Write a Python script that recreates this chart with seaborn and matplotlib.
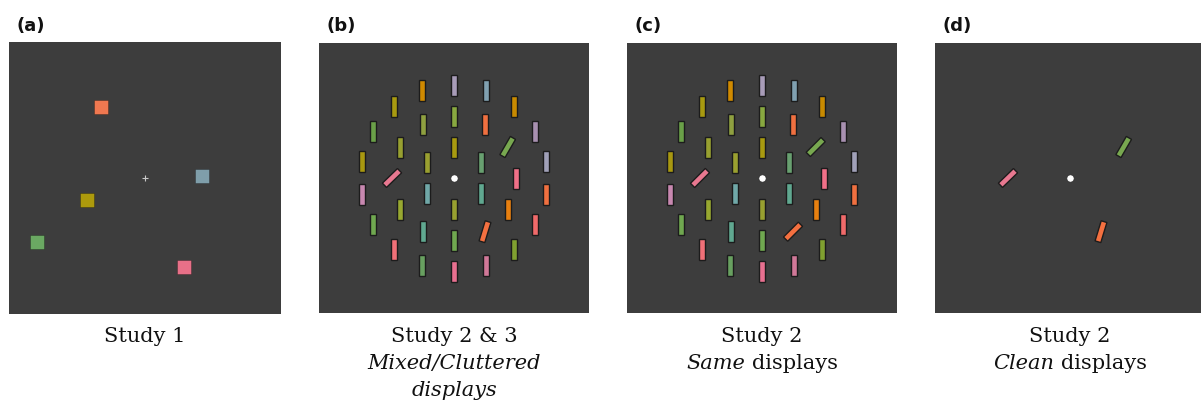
import numpy as np
import pandas as pd
import matplotlib
matplotlib.use("Agg")
import matplotlib.pyplot as plt
from matplotlib.patches import Rectangle
import seaborn as sns

# ---------------------------------------------------------------- data
# Study 1: coloured squares, position relative to fixation (px, y up)
square_x = [-44, 57, -58, -108, 39]
square_y = [71, 2, -22, -64, -89]
square_colors = ["#f07850", "#7f9eaa", "#ad9a0c", "#6aa862", "#e87088"]

# Study 2/3: bars on three concentric rings, listed clockwise from 12 o'clock
ring_radii = [93, 62, 31]
outer_colors = ["#a89cb8", "#80a0b0", "#c88a00", "#a890b0", "#a0a0b8", "#f07040",
                "#f06a6a", "#80a030", "#d07898", "#e87090", "#68a060", "#f07078",
                "#70a850", "#c888b0", "#a89810", "#6aa048", "#a89a10", "#d08a00"]
middle_colors = ["#88a840", "#f07040", "#78a850", "#f07088", "#e88010", "#f47040",
                 "#70a850", "#60a890", "#98a830", "#e87890", "#98a030", "#8fa040"]
inner_colors = ["#a89a10", "#68a070", "#60a890", "#98a030", "#70a8a8", "#9aa030"]

# orientation (deg clockwise from vertical) of the middle-ring bars
middle_tilts_mixed = [0, 0, 30, 0, 0, 17, 0, 0, 0, 46, 0, 0]
middle_tilts_same = [0, 0, 45, 0, 0, 45, 0, 0, 0, 45, 0, 0]

panel_letters = ["(a)", "(b)", "(c)", "(d)"]
captions = [
    [[("Study 1", "normal")]],
    [[("Study 2 & 3", "normal")], [("Mixed/Cluttered", "italic")], [("displays", "italic")]],
    [[("Study 2", "normal")], [("Same", "italic"), ("displays", "normal")]],
    [[("Study 2", "normal")], [("Clean", "italic"), ("displays", "normal")]],
]

# ---------------------------------------------------------------- helpers
W, H = 1201, 403
BG = "#3d3d3d"
BAR_W, BAR_L = 6.0, 21.0


def ring_frame(colors_by_ring, tilts_by_ring):
    rows = []
    for r, cols, tilts in zip(ring_radii, colors_by_ring, tilts_by_ring):
        n = len(cols)
        for i, (c, t) in enumerate(zip(cols, tilts)):
            th = np.deg2rad(360.0 * i / n)
            rows.append(dict(x=r * np.sin(th), y=r * np.cos(th), color=c, tilt=t))
    return pd.DataFrame(rows)


def draw_bars(ax, df):
    for _, row in df.iterrows():
        ax.add_patch(Rectangle((row.x - BAR_W / 2, row.y - BAR_L / 2), BAR_W, BAR_L,
                               angle=-row.tilt, rotation_point="center",
                               facecolor=row.color, edgecolor="#1c1c1c",
                               linewidth=1.0, zorder=2))


def fixation_dot(ax):
    sns.scatterplot(x=[0], y=[0], ax=ax, color="white", s=27, marker="o",
                    edgecolor="#2a2a2a", linewidth=0.4, zorder=3, legend=False)


def setup_axes(left, top, size):
    ax = fig.add_axes([left / W, 1 - (top + size) / H, size / W, size / H])
    ax.set_facecolor(BG)
    ax.set_xlim(-size / 2, size / 2)
    ax.set_ylim(-size / 2, size / 2)
    ax.set_aspect("equal")
    ax.set_xticks([])
    ax.set_yticks([])
    for s in ax.spines.values():
        s.set_visible(False)
    return ax


# ---------------------------------------------------------------- figure
sns.set_theme(style="white")
plt.rcParams["font.family"] = ["DejaVu Sans"]
fig = plt.figure(figsize=(W / 100, H / 100), dpi=100)
fig.patch.set_facecolor("white")

panel_left = [9, 319, 627, 935]
panel_top = [42, 43, 43, 43]
panel_size = [272, 270, 270, 270]
axes = [setup_axes(l, t, s) for l, t, s in zip(panel_left, panel_top, panel_size)]

# (a) Study 1
ax = axes[0]
sq = pd.DataFrame(dict(x=square_x, y=square_y, color=square_colors))
sns.scatterplot(data=sq, x="x", y="y", hue="color",
                palette={c: c for c in square_colors}, marker="s", s=106,
                edgecolor=(0, 0, 0, 0.25), linewidth=0.7, legend=False, ax=ax)
sns.scatterplot(x=[0], y=[0], ax=ax, marker="+", s=14, color="#c8c8c8",
                linewidth=0.8, legend=False)

# (b) mixed / cluttered display
tilts_mixed = [[0] * 18, middle_tilts_mixed, [0] * 6]
tilts_same = [[0] * 18, middle_tilts_same, [0] * 6]
df_mixed = ring_frame([outer_colors, middle_colors, inner_colors], tilts_mixed)
df_same = ring_frame([outer_colors, middle_colors, inner_colors], tilts_same)
draw_bars(axes[1], df_mixed)
fixation_dot(axes[1])

# (c) same display
draw_bars(axes[2], df_same)
fixation_dot(axes[2])

# (d) clean display: only the tilted bars of the mixed display
draw_bars(axes[3], df_mixed[df_mixed.tilt != 0])
fixation_dot(axes[3])

for ax in axes:
    ax.set_xlabel("")
    ax.set_ylabel("")

# ---------------------------------------------------------------- text
renderer = fig.canvas.get_renderer()
serif = "DejaVu Serif"
cap_size = 15
line_base = [342, 369, 396]


def text_width(t):
    return t.get_window_extent(renderer).width


probe_a = fig.text(0, 0, "xx", family=serif, size=cap_size)
probe_b = fig.text(0, 0, "x x", family=serif, size=cap_size)
space_w = text_width(probe_b) - text_width(probe_a)
probe_a.remove()
probe_b.remove()

for ax_i, lines in enumerate(captions):
    xc = panel_left[ax_i] + panel_size[ax_i] / 2
    for li, parts in enumerate(lines):
        ys = 1 - line_base[li] / H
        texts = [fig.text(0, ys, s, family=serif, style=st, size=cap_size,
                          ha="left", va="baseline", color="#111111")
                 for s, st in parts]
        widths = [text_width(t) for t in texts]
        total = sum(widths) + space_w * (len(texts) - 1)
        x = xc - total / 2
        for t, w in zip(texts, widths):
            t.set_x(x / W)
            x += w + space_w

for ax_i, lab in enumerate(panel_letters):
    fig.text((panel_left[ax_i] + 8) / W, 1 - 26 / H, lab, family="DejaVu Sans",
             weight="bold", size=13, ha="left", va="center", color="#111111")

fig.savefig("out.png", dpi=100, facecolor="white")
